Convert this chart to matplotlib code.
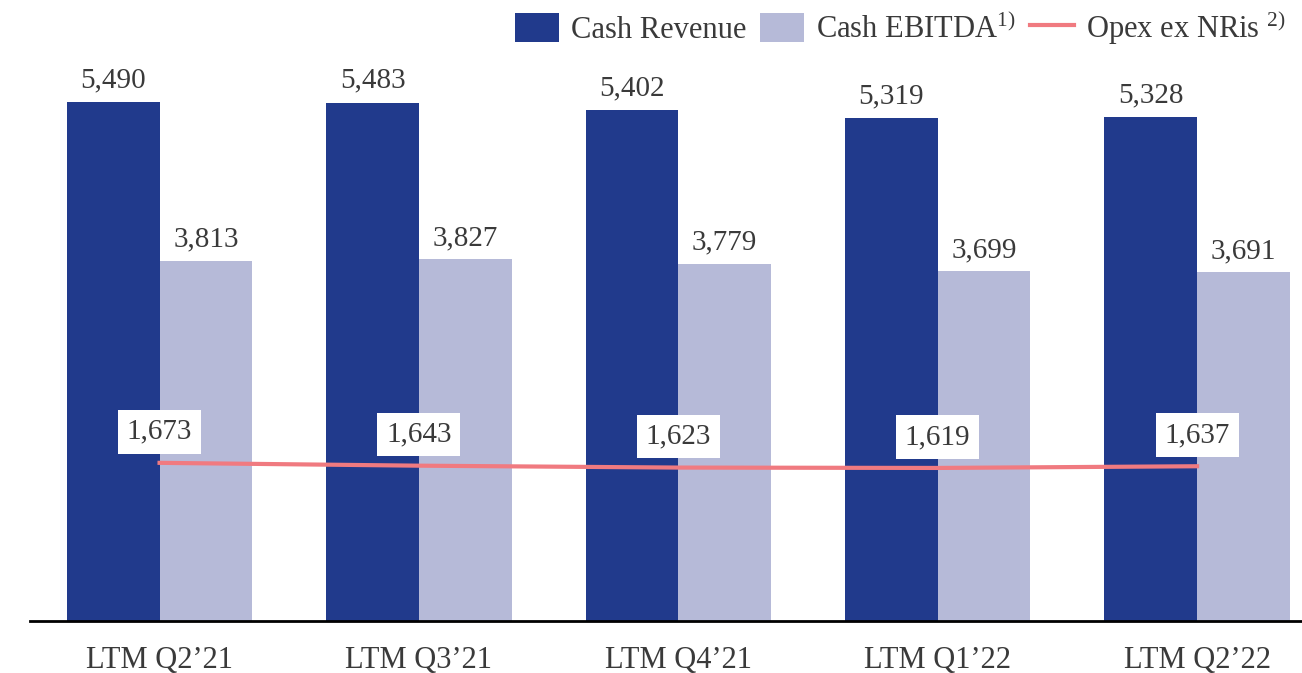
import matplotlib.pyplot as plt
import numpy as np

plt.rcParams['font.family'] = ['Liberation Serif', 'DejaVu Serif']
plt.rcParams['mathtext.fontset'] = 'custom'
plt.rcParams['mathtext.rm'] = 'Liberation Serif'

periods = ["LTM Q2\u201921", "LTM Q3\u201921", "LTM Q4\u201921", "LTM Q1\u201922", "LTM Q2\u201922"]
cash_revenue = [5490, 5483, 5402, 5319, 5328]
cash_ebitda = [3813, 3827, 3779, 3699, 3691]
opex_ex_nris = [1673, 1643, 1623, 1619, 1637]

c_rev = '#213a8c'
c_ebitda = '#b6bad8'
c_opex = '#f07a80'
c_text = '#3a3a3a'

W, H = 1302, 673
fig = plt.figure(figsize=(W / 100, H / 100), dpi=100)
ax = fig.add_axes([30 / W, 52 / H, 1 - 30 / W, 621 / H])

x = np.arange(len(periods))
w = 0.357

b1 = ax.bar(x - w / 2, cash_revenue, w, color=c_rev, label='Cash Revenue')
b2 = ax.bar(x + w / 2, cash_ebitda, w, color=c_ebitda, label='Cash EBITDA$^{1)}$')
l1, = ax.plot(x, opex_ex_nris, color=c_opex, lw=3, label='Opex ex NRis $^{2)}$')

fs = 21
for i in range(len(x)):
    ax.annotate(f'{cash_revenue[i]:,}', (x[i] - w / 2, cash_revenue[i]), xytext=(0, 22),
                textcoords='offset pixels', ha='center', va='center', fontsize=fs, color=c_text)
    ax.annotate(f'{cash_ebitda[i]:,}', (x[i] + w / 2, cash_ebitda[i]), xytext=(0, 21),
                textcoords='offset pixels', ha='center', va='center', fontsize=fs, color=c_text)
    ax.annotate(f'{opex_ex_nris[i]:,}', (x[i], opex_ex_nris[i]), xytext=(0, 31),
                textcoords='offset pixels', ha='center', va='center', fontsize=fs, color=c_text,
                bbox=dict(boxstyle='square,pad=0.3', fc='white', ec='none'))

ax.set_xlim(-0.4995, 4.4045)
ax.set_ylim(0, 6569)
ax.set_xticks(x)
ax.set_xticklabels(periods, fontsize=22, color=c_text)
ax.tick_params(axis='x', length=0, pad=18)
ax.set_yticks([])
for s in ['top', 'right', 'left']:
    ax.spines[s].set_visible(False)
ax.spines['bottom'].set_linewidth(2)
ax.spines['bottom'].set_color('black')

leg = fig.legend(handles=[b1, b2, l1], loc='upper right', bbox_to_anchor=(0.998, 1.009), ncol=3,
                 frameon=False, fontsize=22, handlelength=1.44, handleheight=1.08,
                 columnspacing=0.45, handletextpad=0.4, borderaxespad=0.05)
for t in leg.get_texts():
    t.set_color(c_text)

plt.savefig('out.png', dpi=100)
